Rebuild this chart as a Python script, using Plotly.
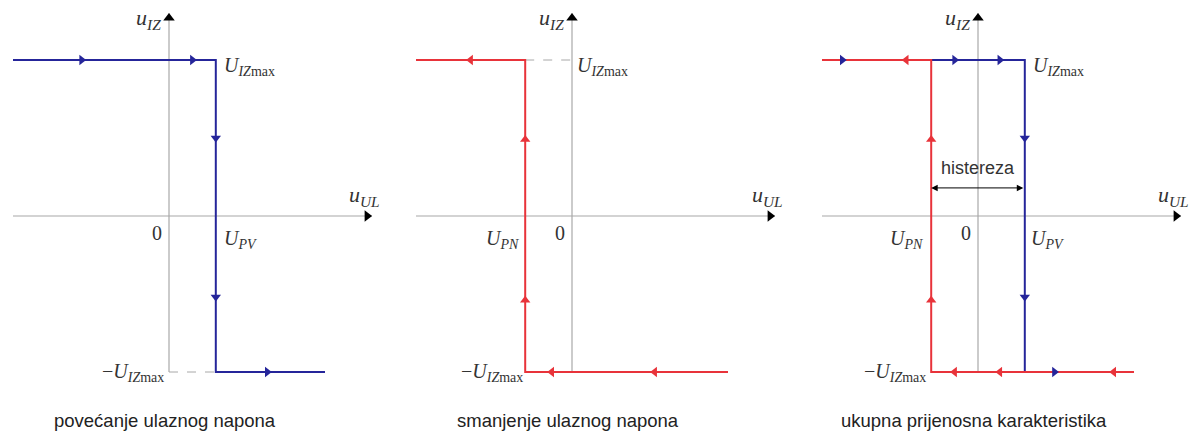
import plotly.graph_objects as go

# hysteresis comparator, units: volts (U_IZmax = 10, thresholds +-3)
U_IZMAX = 10
U_PV = 3
U_PN = -3
U_UL_MIN = -10
U_UL_MAX = 10

# rising input (blue) and falling input (red) transfer curves
rise_x = [U_UL_MIN, U_PV, U_PV, U_UL_MAX]
rise_y = [U_IZMAX, U_IZMAX, -U_IZMAX, -U_IZMAX]
fall_x = [U_UL_MAX, U_PN, U_PN, U_UL_MIN]
fall_y = [-U_IZMAX, -U_IZMAX, U_IZMAX, U_IZMAX]

# direction arrows
arr1_rise_x = [-5.6, 1.5, 3, 3, 6.3]
arr1_rise_y = [10, 10, 5.0, -5.2, -10]
arr1_rise_dir = ["right", "right", "down", "down", "right"]

arr2_fall_x = [-6.5, -3, -3, -1.3, 5.3]
arr2_fall_y = [10, 4.9, -5.4, -10, -10]
arr2_fall_dir = ["left", "up", "up", "left", "left"]

arr3_rise_x = [-8.7, -1.5, 1.4, 3, 3, 4.9]
arr3_rise_y = [10, 10, 10, 5.0, -5.2, -10]
arr3_rise_dir = ["right", "right", "right", "down", "down", "right"]
arr3_fall_x = [-4.6, -3, -3, -1.5, 1.4, 8.7]
arr3_fall_y = [10, 4.9, -5.4, -10, -10, -10]
arr3_fall_dir = ["left", "up", "up", "left", "left", "left"]

captions = ["povećanje ulaznog napona", "smanjenje ulaznog napona",
            "ukupna prijenosna karakteristika"]

BLUE = "#25259a"
RED = "#e8333a"
GRAY = "#a8a8a8"
SERIF = "Liberation Serif"

W, H = 1196, 437
PX = 15.6                    # pixels per volt
origins = [169, 572, 978]    # x pixel of the origin in each panel
ORIGIN_Y = 216
XR = [-10.8, 13.8]
YR = [-(H - ORIGIN_Y) / PX, ORIGIN_Y / PX]

fig = go.Figure()
layout = dict(width=W, height=H, margin=dict(l=0, r=0, t=0, b=0),
              paper_bgcolor="white", plot_bgcolor="white", showlegend=False)

for i, ox in enumerate(origins):
    n = "" if i == 0 else str(i + 1)
    left = (ox + XR[0] * PX) / W
    right = (ox + XR[1] * PX) / W
    layout["xaxis" + n] = dict(domain=[left, right], range=XR, visible=False,
                               anchor="y" + n)
    layout["yaxis" + n] = dict(domain=[0, 1], range=YR, visible=False,
                               anchor="x" + n)
fig.update_layout(**layout)

AX_LO, AX_HI = -10, 13


def axes(p):
    xa, ya = "x" + p, "y" + p
    fig.add_trace(go.Scatter(x=[AX_LO, AX_HI], y=[0, 0], mode="lines",
                             line=dict(color=GRAY, width=1.2), xaxis=xa, yaxis=ya,
                             hoverinfo="skip"))
    fig.add_trace(go.Scatter(x=[0, 0], y=[AX_LO, AX_HI], mode="lines",
                             line=dict(color=GRAY, width=1.2), xaxis=xa, yaxis=ya,
                             hoverinfo="skip"))
    fig.add_trace(go.Scatter(x=[AX_HI - 0.3, 0], y=[0, AX_HI - 0.3], mode="markers",
                             marker=dict(symbol=["triangle-right", "triangle-up"],
                                         size=10, color="black"),
                             xaxis=xa, yaxis=ya, hoverinfo="skip"))


def curve(p, x, y, color):
    fig.add_trace(go.Scatter(x=x, y=y, mode="lines", line=dict(color=color, width=2),
                             xaxis="x" + p, yaxis="y" + p))


def arrows(p, x, y, d, color):
    fig.add_trace(go.Scatter(x=x, y=y, mode="markers",
                             marker=dict(symbol=["triangle-" + s for s in d],
                                         size=9, color=color),
                             xaxis="x" + p, yaxis="y" + p))


def dashed(p, x, y):
    fig.add_trace(go.Scatter(x=x, y=y, mode="lines",
                             line=dict(color=GRAY, width=1, dash="dash"),
                             xaxis="x" + p, yaxis="y" + p))


for p in ["", "2", "3"]:
    axes(p)

dashed("", [0, U_PV], [-U_IZMAX, -U_IZMAX])
curve("", rise_x, rise_y, BLUE)
arrows("", arr1_rise_x, arr1_rise_y, arr1_rise_dir, BLUE)

dashed("2", [U_PN, 0], [U_IZMAX, U_IZMAX])
curve("2", fall_x, fall_y, RED)
arrows("2", arr2_fall_x, arr2_fall_y, arr2_fall_dir, RED)

curve("3", rise_x, rise_y, BLUE)
curve("3", fall_x, fall_y, RED)
arrows("3", arr3_rise_x, arr3_rise_y, arr3_rise_dir, BLUE)
arrows("3", arr3_fall_x, arr3_fall_y, arr3_fall_dir, RED)

# labels
UIZ = "<i>u</i><sub><i>IZ</i></sub>"
UUL = "<i>u</i><sub><i>UL</i></sub>"
UMAX = "<i>U</i><sub><i>IZ</i>max</sub>"
UPV = "<i>U</i><sub><i>PV</i></sub>"
UPN = "<i>U</i><sub><i>PN</i></sub>"
mf = dict(family=SERIF, size=20, color="#333333")
uf = dict(family=SERIF, size=22, color="#333333")


def label(p, text, x, y, xanchor="left", yanchor="middle", font=mf):
    fig.add_annotation(text=text, x=x, y=y, xref="x" + p, yref="y" + p,
                       showarrow=False, xanchor=xanchor, yanchor=yanchor, font=font)


for i, p in enumerate(["", "2", "3"]):
    label(p, UIZ, -0.4, 12.6, "right", font=uf)
    label(p, UUL, 12.5, 1.3, "center", font=uf)
    label(p, "0", -0.8, -1.1, "center")

label("", UMAX, 3.4, 9.6)
label("", UPV, 3.4, -1.5)
label("", "\u2212" + UMAX, -0.2, -10.0, "right")

label("2", UMAX, 0.2, 9.6)
label("2", UPN, -3.3, -1.5, "right")
label("2", "\u2212" + UMAX, -3.0, -10.0, "right")

label("3", UMAX, 3.4, 9.6)
label("3", UPV, 3.3, -1.5)
label("3", UPN, -3.4, -1.5, "right")
label("3", "\u2212" + UMAX, -3.2, -10.0, "right")

# hysteresis width marker
fig.add_annotation(x=U_PN, y=1.8, ax=U_PV, ay=1.8, xref="x3", yref="y3",
                   axref="x3", ayref="y3", text="", showarrow=True,
                   arrowhead=2, arrowsize=1.3, arrowwidth=1, arrowcolor="black",
                   startarrowhead=2, startarrowsize=1.3, arrowside="end+start")
fig.add_annotation(text="histereza", x=0, y=3.1, xref="x3", yref="y3",
                   showarrow=False, font=dict(family="Liberation Sans", size=18,
                                              color="#333333"))

for ox, cap in zip(origins, captions):
    fig.add_annotation(text=cap, x=(ox - 4) / W, y=1 - 420 / H, xref="paper",
                       yref="paper", showarrow=False, xanchor="center",
                       yanchor="middle",
                       font=dict(family="Liberation Sans", size=18.5, color="#222222"))

fig.write_html("out.html", config={"displayModeBar": False},
               post_script="document.body.style.margin='0';")
